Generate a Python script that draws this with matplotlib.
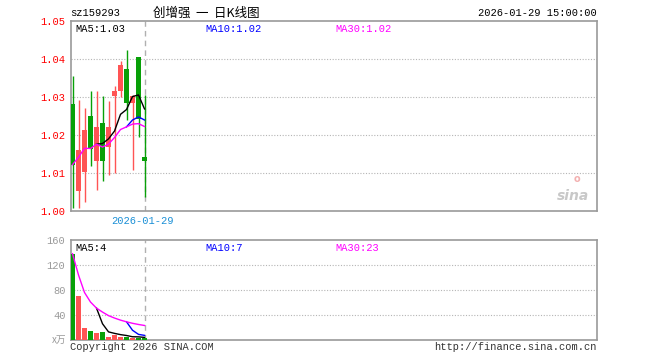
import matplotlib
matplotlib.use("Agg")
import matplotlib.pyplot as plt
import numpy as np
import pandas as pd

# ---- data ----
code = "sz159293"
title = "创增强  一  日K线图"
timestamp = "2026-01-29 15:00:00"
last_date = "2026-01-29"
opens  = [1.0282, 1.0052, 1.0102, 1.0251, 1.0131, 1.0232, 1.0169, 1.0303, 1.0315, 1.0374, 1.0284, 1.0404, 1.0141]
highs  = [1.0354, 1.0293, 1.0271, 1.0315, 1.0315, 1.0303, 1.0290, 1.0328, 1.0394, 1.0424, 1.0305, 1.0404, 1.0306]
lows   = [1.0009, 1.0008, 1.0023, 1.0119, 1.0056, 1.0078, 1.0095, 1.0100, 1.0300, 1.0240, 1.0109, 1.0196, 1.0038]
closes = [1.0122, 1.0161, 1.0212, 1.0163, 1.0221, 1.0131, 1.0222, 1.0315, 1.0383, 1.0284, 1.0302, 1.0243, 1.0131]
volumes = [138, 70, 20, 15, 12, 13, 5, 8, 5, 5, 3, 4, 4]
price_ticks = [1.00, 1.01, 1.02, 1.03, 1.04, 1.05]
vol_ticks = [40, 80, 120, 160]

RED = "#ff5454"
GREEN = "#08a008"
FRAME = "#9a9a9a"
MONO = "Liberation Mono"

n = len(closes)
x = np.arange(n)
o = np.array(opens); c = np.array(closes); h = np.array(highs); l = np.array(lows)
v = np.array(volumes, dtype=float)
up = c >= o
cols = [RED if u else GREEN for u in up]

cs = pd.Series(c)
ma5 = cs.rolling(5).mean()
ma10 = cs.rolling(10).mean()
ma30 = cs.expanding().mean()
vs = pd.Series(v)
vma5 = vs.rolling(5).mean()
vma10 = vs.rolling(10).mean()
vma30 = vs.expanding().mean()

fig = plt.figure(figsize=(6.6, 3.6), dpi=100)
W, H = 660, 360
def axes_px(l_, t_, r_, b_):
    return fig.add_axes([l_ / W, 1 - b_ / H, (r_ - l_) / W, (b_ - t_) / H])

ax = axes_px(71, 21, 597, 211)
axv = axes_px(71, 240, 597, 340)

xlim = (-0.25, 87.4)
bw = 0.8

for a in (ax, axv):
    a.set_xlim(*xlim)
    for s in a.spines.values():
        s.set_color(FRAME)
        s.set_linewidth(1.2)
    a.set_xticks([])
    a.tick_params(axis="y", length=0, pad=4)
    a.axvline(x[-1], color="#b0b0b0", lw=1.0, ls=(0, (4, 3)), zorder=1)

# price panel
ax.set_ylim(price_ticks[0], price_ticks[-1])
ax.set_yticks(price_ticks)
ax.set_yticklabels([f"{t:.2f}" for t in price_ticks], color="red", fontsize=7.5, family=MONO)
for t in price_ticks[1:-1]:
    ax.axhline(t, color="#b5b5b5", lw=0.8, ls=(0, (1, 1.5)), zorder=0)

ax.vlines(x, l, h, colors=cols, lw=1.0, zorder=2)
body_h = np.maximum(np.abs(c - o), 0.0002)
ax.bar(x, body_h, bottom=np.minimum(o, c), width=bw, color=cols, zorder=3, linewidth=0)
ax.plot(x, ma5, color="black", lw=1.0, zorder=4)
ax.plot(x, ma10, color="#0000ff", lw=1.0, zorder=4)
ax.plot(x, ma30, color="#ff00ff", lw=1.0, zorder=4)

ax.text(4 / 526, 0.985, f"MA5:{ma5.iloc[-1]:.2f}", transform=ax.transAxes, fontsize=7.5,
        family=MONO, color="black", va="top", ha="left")
ax.text(134 / 526, 0.985, f"MA10:{ma10.iloc[-1]:.2f}", transform=ax.transAxes, fontsize=7.5,
        family=MONO, color="#0000ff", va="top", ha="left")
ax.text(264 / 526, 0.985, f"MA30:{ma30.iloc[-1]:.2f}", transform=ax.transAxes, fontsize=7.5,
        family=MONO, color="#ff00ff", va="top", ha="left")

# watermark
ax.text(0.985, 0.04, "sina", transform=ax.transAxes, fontsize=10, color="#c8c8c8",
        ha="right", va="bottom", style="italic", weight="bold", family="DejaVu Sans")
ax.text(0.962, 0.14, "o", transform=ax.transAxes, fontsize=7, color="#f3b0b0",
        ha="center", va="bottom", weight="bold")

# volume panel
axv.set_ylim(0, 160)
axv.set_yticks(vol_ticks)
axv.set_yticklabels([str(t) for t in vol_ticks], color="#9a9a9a", fontsize=7.5, family=MONO)
for t in vol_ticks[:-1]:
    axv.axhline(t, color="#b5b5b5", lw=0.8, ls=(0, (1, 1.5)), zorder=0)
axv.bar(x, v, width=bw, color=cols, zorder=3, linewidth=0)
axv.plot(x, vma5, color="black", lw=1.0, zorder=4)
axv.plot(x, vma10, color="#0000ff", lw=1.0, zorder=4)
axv.plot(x, vma30, color="#ff00ff", lw=1.0, zorder=4)
axv.text(4 / 526, 0.97, f"MA5:{vma5.iloc[-1]:.0f}", transform=axv.transAxes, fontsize=7.5,
         family=MONO, color="black", va="top", ha="left")
axv.text(134 / 526, 0.97, f"MA10:{vma10.iloc[-1]:.0f}", transform=axv.transAxes, fontsize=7.5,
         family=MONO, color="#0000ff", va="top", ha="left")
axv.text(264 / 526, 0.97, f"MA30:{vma30.iloc[-1]:.0f}", transform=axv.transAxes, fontsize=7.5,
         family=MONO, color="#ff00ff", va="top", ha="left")

# figure texts
fig.text(70 / W, 1 - 13 / H, code, fontsize=7.5, family=MONO, color="black", va="center", ha="left")
fig.text(206 / W, 1 - 13 / H, title, fontsize=9, family=["Noto Sans CJK SC", "DejaVu Sans"],
         color="black", va="center", ha="center")
fig.text(597 / W, 1 - 13 / H, timestamp, fontsize=7.5, family=MONO, color="black", va="center", ha="right")
fig.text(142 / W, 1 - 221 / H, last_date, fontsize=7.5, family=MONO, color="#1a8fd6", va="center", ha="center")
fig.text(66 / W, 1 - 340 / H, "x万", fontsize=7, family=["Noto Sans CJK SC", "DejaVu Sans"],
         color="#9a9a9a", va="center", ha="right")
fig.text(70 / W, 1 - 347 / H, "Copyright 2026 SINA.COM", fontsize=7.5, family=MONO,
         color="#333333", va="center", ha="left")
fig.text(597 / W, 1 - 347 / H, "http://finance.sina.com.cn", fontsize=7.5, family=MONO,
         color="#333333", va="center", ha="right")

fig.savefig("out.png", dpi=100, facecolor="white")
